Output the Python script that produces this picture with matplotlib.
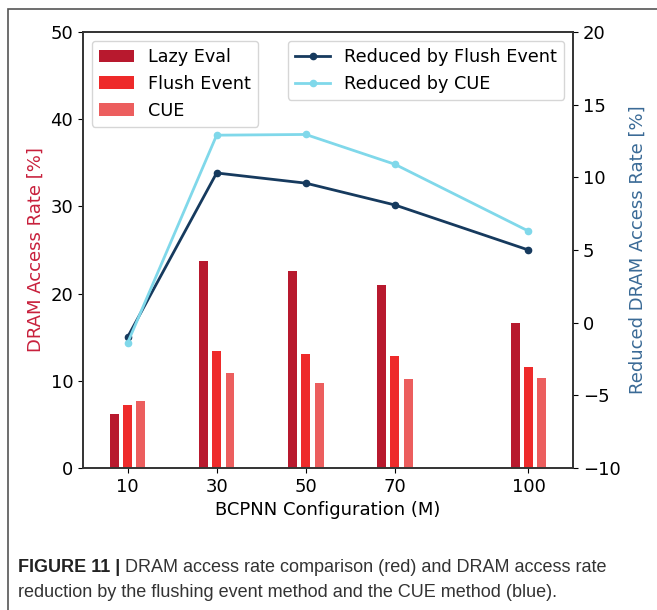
import numpy as np
import matplotlib
matplotlib.use("Agg")
import matplotlib.pyplot as plt
from matplotlib.patches import Rectangle

# data
configs = [10, 30, 50, 70, 100]
lazy_eval = [6.2, 23.7, 22.6, 21.0, 16.6]
flush_event = [7.2, 13.4, 13.1, 12.9, 11.6]
cue = [7.7, 10.9, 9.7, 10.2, 10.3]
reduced_flush = [-1.0, 10.3, 9.6, 8.1, 5.0]
reduced_cue = [-1.4, 12.9, 12.95, 10.9, 6.3]

bar_colors = ["#b8192e", "#ee2a2a", "#ec5e5e"]
line_colors = ["#163a5e", "#80d8ea"]


def set_font():
    plt.rcParams["font.size"] = 13
    plt.rcParams["font.family"] = "DejaVu Sans"


def main():
    set_font()
    fig = plt.figure(figsize=(6.57, 6.10), dpi=100)

    # outer frame of the figure panel
    fig.patches.append(Rectangle((8 / 657, -0.1), 1.2, 1 - 9 / 610 + 0.1,
                                 transform=fig.transFigure, fill=False,
                                 edgecolor="#555555", linewidth=1.2))

    ax = fig.add_axes([83 / 657, 1 - 468 / 610, 490 / 657, 436 / 610])
    x = np.array(configs, dtype=float)
    w = 2.0
    ax.bar(x - 3, lazy_eval, w, color=bar_colors[0], label="Lazy Eval")
    ax.bar(x, flush_event, w, color=bar_colors[1], label="Flush Event")
    ax.bar(x + 3, cue, w, color=bar_colors[2], label="CUE")
    ax.set_xlim(0, 110)
    ax.set_ylim(0, 50)
    ax.set_xticks(configs)
    ax.set_yticks(np.arange(0, 51, 10))
    ax.set_xlabel("BCPNN Configuration (M)", fontsize=13, labelpad=4)
    ax.set_ylabel("DRAM Access Rate [%]", color="#c8203c", fontsize=13)
    ax.legend(loc="upper left", fontsize=12.7)

    ax2 = ax.twinx()
    ax2.plot(configs, reduced_flush, "-o", color=line_colors[0], lw=2,
             markersize=4.5, label="Reduced by Flush Event")
    ax2.plot(configs, reduced_cue, "-o", color=line_colors[1], lw=2,
             markersize=4.5, label="Reduced by CUE")
    ax2.set_ylim(-10, 20)
    ax2.set_yticks(np.arange(-10, 21, 5))
    ax2.set_ylabel("Reduced DRAM Access Rate [%]", color="#3a6a96",
                   fontsize=13, labelpad=6)
    ax2.legend(loc="upper right", fontsize=12.7)

    for a in (ax, ax2):
        for s in a.spines.values():
            s.set_color("#333333")
            s.set_linewidth(1.2)

    # caption with bold prefix
    cap_font = "Liberation Sans"
    t1 = fig.text(18 / 657, 1 - 572 / 610, "FIGURE 11 | ", fontsize=13,
                  fontweight="bold", family=cap_font, color="#222222",
                  va="baseline")
    fig.canvas.draw()
    bb = t1.get_window_extent(renderer=fig.canvas.get_renderer())
    fig.text(bb.x1 / fig.bbox.width, 1 - 572 / 610,
             "DRAM access rate comparison (red) and DRAM access rate",
             fontsize=13, family=cap_font, color="#333333", va="baseline")
    fig.text(18 / 657, 1 - 597 / 610,
             "reduction by the flushing event method and the CUE method (blue).",
             fontsize=13, family=cap_font, color="#333333", va="baseline")

    fig.savefig("out.png", dpi=100)


if __name__ == "__main__":
    main()
